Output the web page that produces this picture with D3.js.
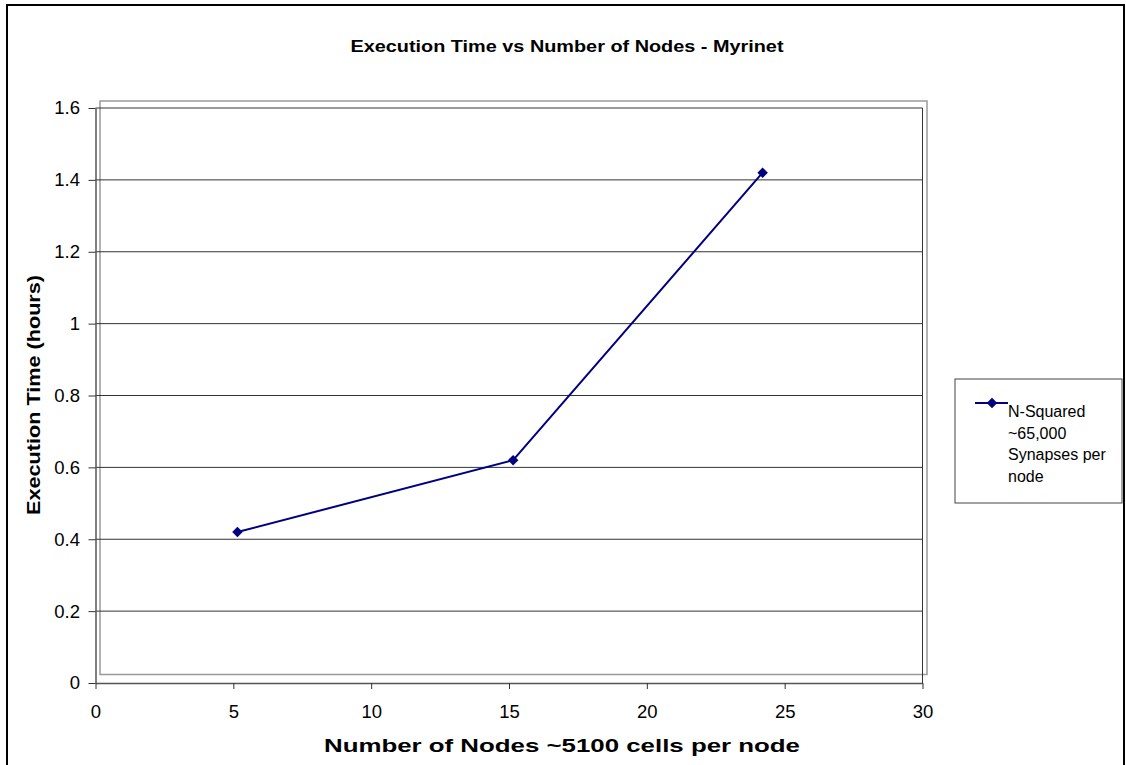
<!DOCTYPE html>
<html><head><meta charset="utf-8">
<script src="https://cdn.jsdelivr.net/npm/d3@7"></script>
<style>body{margin:0;background:#fff}svg{display:block}text{font-family:"Liberation Sans",Arial,sans-serif}</style>
</head><body>
<script>
const title = "Execution Time vs Number of Nodes - Myrinet";
const xLabel = "Number of Nodes ~5100 cells per node";
const yLabel = "Execution Time (hours)";
const seriesName = ["N-Squared", "~65,000", "Synapses per", "node"];
const nodes = [5.15, 15.15, 24.2];
const hours = [0.42, 0.62, 1.42];
const xTicks = [0, 5, 10, 15, 20, 25, 30];
const yTicks = [0, 0.2, 0.4, 0.6, 0.8, 1, 1.2, 1.4, 1.6];

const W = 1126, H = 765;
const svg = d3.select("body").append("svg").attr("width", W).attr("height", H);
svg.append("rect").attr("x", 7).attr("y", 5).attr("width", 1117).attr("height", 775)
  .attr("fill", "#fff").attr("stroke", "#000").attr("stroke-width", 2);

const x = d3.scaleLinear().domain([0, 30]).range([95.5, 922.5]);
const y = d3.scaleLinear().domain([0, 1.6]).range([683, 108]);

// offset wall frame
svg.append("rect").attr("x", 100).attr("y", 101).attr("width", 827).attr("height", 573.5)
  .attr("fill", "none").attr("stroke", "#9a9a9a").attr("stroke-width", 1.5);

// gridlines
svg.append("g").selectAll("line").data(yTicks.filter(d => d > 0)).join("line")
  .attr("x1", x(0)).attr("x2", x(30)).attr("y1", d => y(d)).attr("y2", d => y(d))
  .attr("stroke", "#333").attr("stroke-width", 1);
// right edge
svg.append("line").attr("x1", x(30)).attr("x2", x(30)).attr("y1", y(1.6)).attr("y2", y(0))
  .attr("stroke", "#333").attr("stroke-width", 1);

const fmt = d => d3.format("")(+d.toFixed(1));
const yAxis = svg.append("g").attr("transform", `translate(${x(0)},0)`)
  .call(d3.axisLeft(y).tickValues(yTicks).tickSize(7).tickSizeOuter(0).tickPadding(8.5).tickFormat(fmt));
const xAxis = svg.append("g").attr("transform", `translate(0,${y(0)})`)
  .call(d3.axisBottom(x).tickValues(xTicks).tickSize(6).tickSizeOuter(0).tickPadding(16));
[yAxis, xAxis].forEach(a => {
  a.select(".domain").attr("stroke", "#555").attr("stroke-width", 1.5);
  a.selectAll(".tick line").attr("stroke", "#333");
  a.selectAll("text").attr("font-size", 18.5).attr("fill", "#000").attr("font-family", "Liberation Sans, Arial, sans-serif");
});

const data = nodes.map((n, i) => [n, hours[i]]);
svg.append("path").datum(data)
  .attr("d", d3.line().x(d => x(d[0])).y(d => y(d[1])))
  .attr("fill", "none").attr("stroke", "#000080").attr("stroke-width", 2);
const diamond = d3.symbol().type(d3.symbolDiamond2).size(70);
svg.append("g").selectAll("path").data(data).join("path")
  .attr("d", diamond).attr("transform", d => `translate(${x(d[0])},${y(d[1])})`)
  .attr("fill", "#000080");

svg.append("text").attr("x", 567).attr("y", 52).attr("text-anchor", "middle")
  .attr("font-size", 17).attr("font-weight", "bold")
  .attr("textLength", 433).attr("lengthAdjust", "spacingAndGlyphs").text(title);
svg.append("text").attr("x", 562).attr("y", 752).attr("text-anchor", "middle")
  .attr("font-size", 18.5).attr("font-weight", "bold")
  .attr("textLength", 476).attr("lengthAdjust", "spacingAndGlyphs").text(xLabel);
svg.append("text").attr("transform", "translate(39.5,395) rotate(-90)").attr("text-anchor", "middle")
  .attr("font-size", 18).attr("font-weight", "bold")
  .attr("textLength", 240).attr("lengthAdjust", "spacingAndGlyphs").text(yLabel);

// legend
const lg = svg.append("g");
lg.append("rect").attr("x", 955).attr("y", 379).attr("width", 167).attr("height", 124)
  .attr("fill", "#fff").attr("stroke", "#444").attr("stroke-width", 1);
lg.append("line").attr("x1", 975).attr("x2", 1008).attr("y1", 403).attr("y2", 403)
  .attr("stroke", "#000080").attr("stroke-width", 2);
lg.append("path").attr("d", diamond).attr("transform", "translate(992,403)").attr("fill", "#000080");
lg.append("text").attr("x", 1008).attr("y", 417).attr("font-size", 16)
  .selectAll("tspan").data(seriesName).join("tspan")
  .attr("x", 1008).attr("dy", (d, i) => i ? 21.6 : 0).text(d => d);
</script>
</body></html>
